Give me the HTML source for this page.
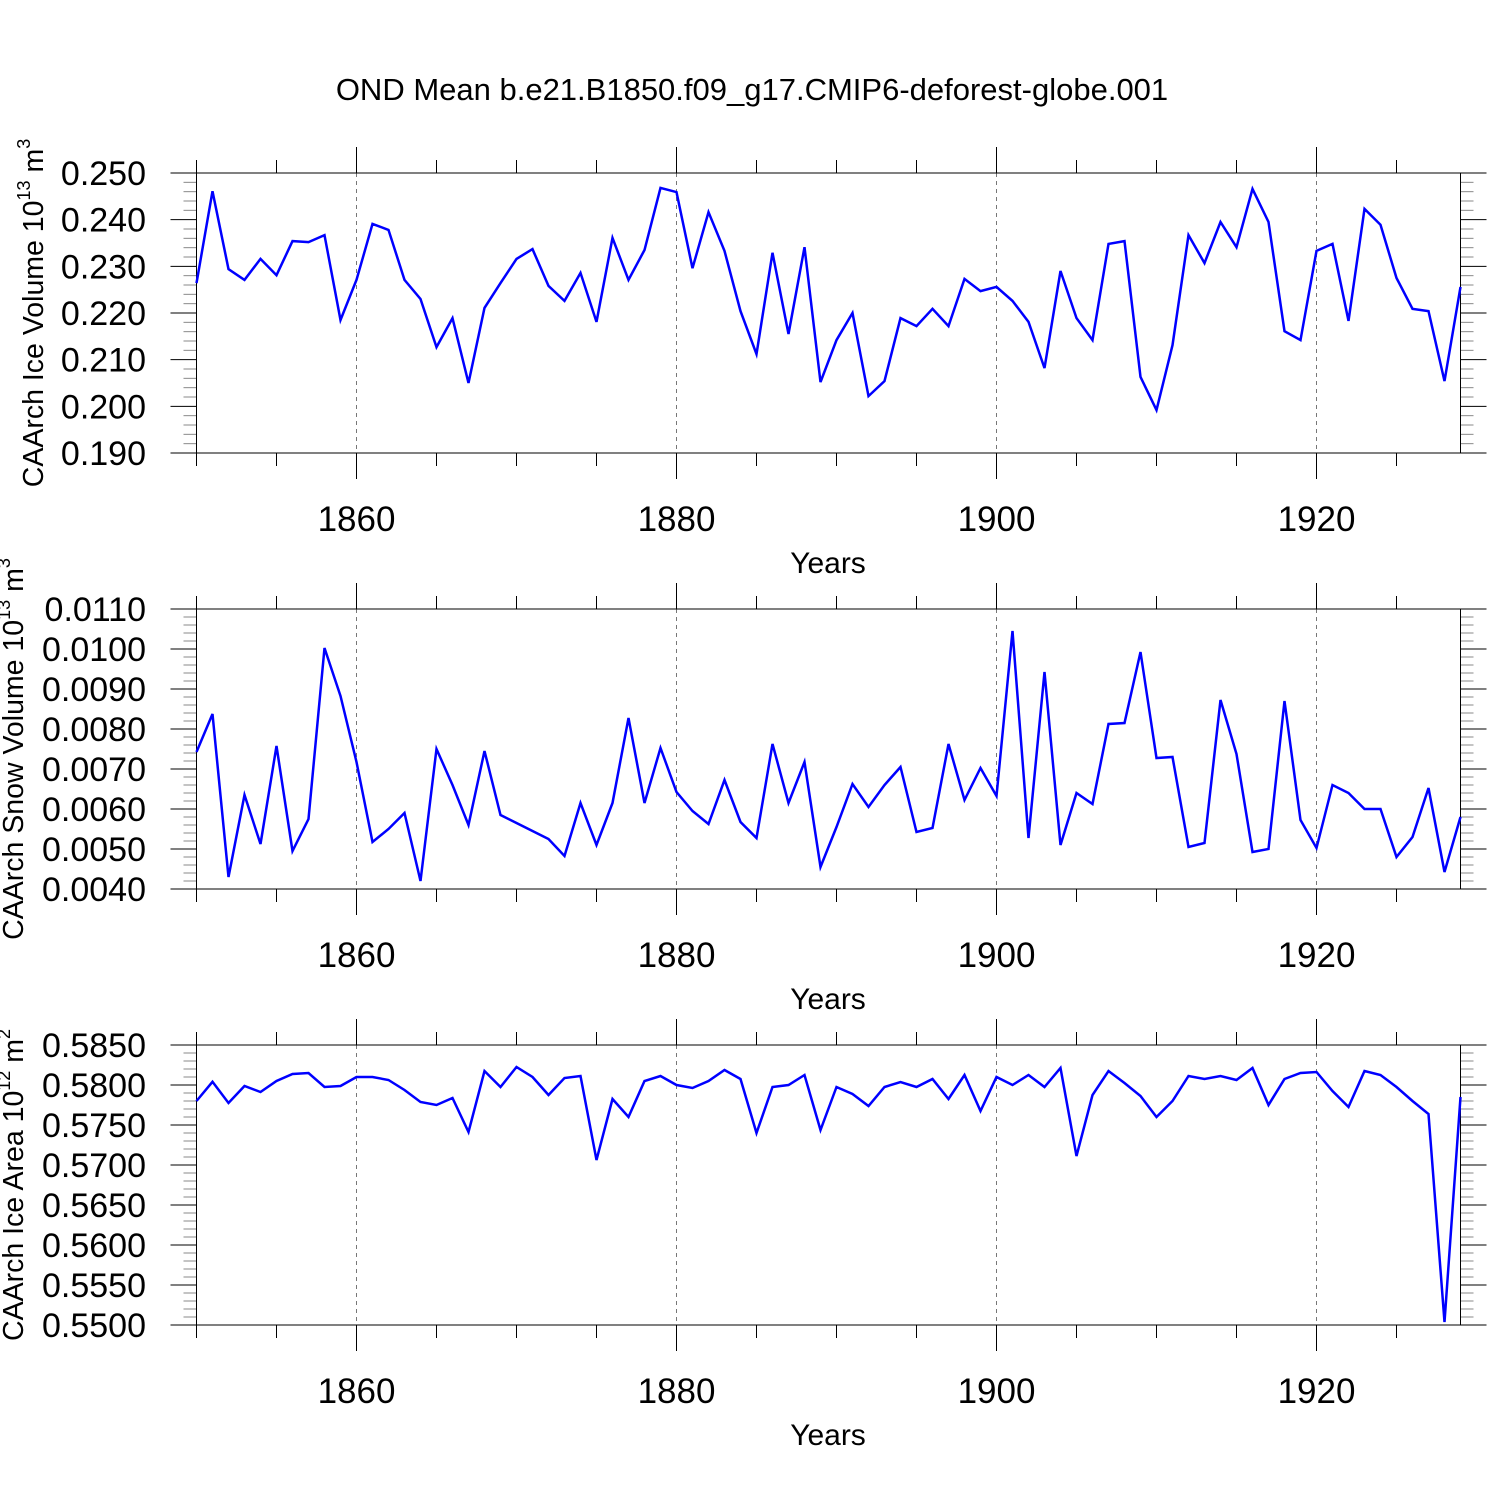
<!DOCTYPE html>
<html><head><meta charset="utf-8"><style>
html,body{margin:0;padding:0;background:#fff;}
svg{display:block;font-family:"Liberation Sans",sans-serif;}
</style></head><body>
<svg id="chart" width="1500" height="1500" viewBox="0 0 1500 1500" xmlns="http://www.w3.org/2000/svg">
<rect width="1500" height="1500" fill="#fff"/>
<text x="752" y="100" font-size="31" text-anchor="middle">OND Mean b.e21.B1850.f09_g17.CMIP6-deforest-globe.001</text>
</svg>
<script>
const years = [];
for (let y = 1850; y <= 1929; y++) years.push(y);
const iceVolume = [0.2264,0.2461,0.2294,0.2271,0.2316,0.2281,0.2354,0.2352,0.2367,0.2185,0.2271,0.2391,0.2378,0.2271,0.2230,0.2127,0.2189,0.2050,0.2211,0.2264,0.2316,0.2337,0.2258,0.2226,0.2286,0.2181,0.2361,0.2271,0.2335,0.2468,0.2459,0.2296,0.2416,0.2333,0.2204,0.2112,0.2329,0.2155,0.2341,0.2052,0.2142,0.2200,0.2022,0.2054,0.2189,0.2172,0.2209,0.2172,0.2273,0.2247,0.2256,0.2226,0.2181,0.2082,0.2290,0.2189,0.2142,0.2348,0.2354,0.2063,0.1992,0.2131,0.2367,0.2307,0.2395,0.2341,0.2466,0.2395,0.2161,0.2142,0.2333,0.2348,0.2183,0.2423,0.2389,0.2275,0.2209,0.2204,0.2054,0.2256];
const snowVolume = [0.007425,0.008375,0.0043,0.00635,0.005125,0.007575,0.00495,0.00575,0.010025,0.008825,0.007175,0.005175,0.0055,0.0059,0.0042,0.0075,0.0066,0.0056,0.00745,0.00585,0.00565,0.00545,0.00525,0.004825,0.00615,0.0051,0.00615,0.008275,0.00615,0.007525,0.006425,0.00595,0.005625,0.006725,0.005675,0.005275,0.007625,0.00615,0.007175,0.00455,0.00555,0.006625,0.00605,0.0066,0.00705,0.005425,0.005525,0.007625,0.006225,0.007025,0.006325,0.01045,0.005275,0.009425,0.0051,0.0064,0.006125,0.008125,0.00815,0.009925,0.007275,0.0073,0.00505,0.00515,0.008725,0.007375,0.004925,0.005,0.0087,0.005725,0.005025,0.0066,0.0064,0.006,0.006,0.0048,0.0053,0.006525,0.004425,0.0058];
const iceArea = [0.5780,0.5804,0.57775,0.579875,0.579125,0.5805,0.581375,0.5815,0.57975,0.579875,0.581,0.581,0.580625,0.579375,0.577875,0.5775,0.578375,0.574125,0.58175,0.57975,0.58225,0.581,0.57875,0.580875,0.581125,0.570625,0.57825,0.576,0.5805,0.581125,0.58,0.579625,0.5805,0.581875,0.58075,0.574,0.57975,0.58,0.58125,0.574375,0.57975,0.578875,0.577375,0.57975,0.580375,0.57975,0.58075,0.57825,0.58125,0.57675,0.581,0.58,0.58125,0.57975,0.582125,0.571125,0.57875,0.58175,0.58025,0.578625,0.576,0.578,0.581125,0.58075,0.581125,0.580625,0.582125,0.5775,0.58075,0.5815,0.581625,0.57925,0.57725,0.58175,0.58125,0.57975,0.578,0.576375,0.550375,0.5785];
const xTicks = [1860,1880,1900,1920];
const ticks1 = ["0.250","0.240","0.230","0.220","0.210","0.200","0.190"];
const ticks2 = ["0.0110","0.0100","0.0090","0.0080","0.0070","0.0060","0.0050","0.0040"];
const ticks3 = ["0.5850","0.5800","0.5750","0.5700","0.5650","0.5600","0.5550","0.5500"];

const NS = "http://www.w3.org/2000/svg";
const svg = document.getElementById("chart");
function mk(tag, attrs, parent) {
  const e = document.createElementNS(NS, tag);
  for (const k in attrs) e.setAttribute(k, attrs[k]);
  (parent || svg).appendChild(e);
  return e;
}
const X0 = 196.5, X1 = 1460.5, xMin = 1850, xMax = 1929;
function xs(v) { return X0 + (v - xMin) / (xMax - xMin) * (X1 - X0); }

function panel(id, top, bottom, yTicks, yMinor, values, titleMain, sup, unit, usup, titleX) {
  const vals = yTicks.map(Number);
  const yMax = Math.max(...vals), yMin = Math.min(...vals);
  const ys = v => top + (yMax - v) / (yMax - yMin) * (bottom - top);
  const g = mk("g", {});
  
  
  xTicks.forEach(t => {
    const l = mk("line", {x1: xs(t), x2: xs(t), y1: top, y2: bottom, stroke: "#777", "stroke-width": 1, "stroke-dasharray": "4,4"}, g);
    
    
  });
  for (let yr = 1850; yr <= 1929; yr += 5) {
    const maj = yr % 20 === 0;
    const len = maj ? 26 : 13;
    const t1 = mk("line", {x1: xs(yr), x2: xs(yr), y1: top - len, y2: top, stroke: "#000", "stroke-width": 1}, g);
    
    
    const t2 = mk("line", {x1: xs(yr), x2: xs(yr), y1: bottom, y2: bottom + len, stroke: "#000", "stroke-width": 1}, g);
    
    
  }
  const step = (yMax - yMin) / (yTicks.length - 1);
  const n = (yTicks.length - 1) * yMinor;
  for (let i = 0; i <= n; i++) {
    const v = yMax - i * step / yMinor;
    const maj = i % yMinor === 0;
    const len = maj ? 26 : 13;
    const yy = ys(v);
    const a = mk("line", {x1: X0 - len, x2: X0, y1: yy, y2: yy, stroke: maj ? "#000" : "#888", "stroke-width": 1}, g);
    
    
    const b = mk("line", {x1: X1, x2: X1 + len, y1: yy, y2: yy, stroke: maj ? "#000" : "#888", "stroke-width": 1}, g);
    
    
  }
  yTicks.forEach(t => {
    const tx = mk("text", {x: 146, y: ys(Number(t)) + 12, "font-size": 34, "text-anchor": "end"}, g);
    tx.textContent = t;
    
    
  });
  xTicks.forEach(t => {
    const tx = mk("text", {x: xs(t), y: bottom + 78, "font-size": 35, "text-anchor": "middle"}, g);
    tx.textContent = t;
    
    
  });
  const xt = mk("text", {x: 828, y: bottom + 120, "font-size": 30, "text-anchor": "middle"}, g);
  xt.textContent = "Years";
  
  
  const cy = (top + bottom) / 2;
  const yt = mk("text", {x: 0, y: 0, "font-size": 28.5, "text-anchor": "middle", transform: "translate(" + titleX + "," + cy + ") rotate(-90)"}, g);
  
  
  const s1 = mk("tspan", {}, yt); s1.textContent = titleMain;
  const s2 = mk("tspan", {dy: -13, "font-size": 18}, yt); s2.textContent = sup;
  const s3 = mk("tspan", {dy: 13}, yt); s3.textContent = unit;
  const s4 = mk("tspan", {dy: -13, "font-size": 18}, yt); s4.textContent = usup;
  const fr = mk("rect", {x: X0, y: top, width: X1 - X0, height: bottom - top, fill: "none", stroke: "#000", "stroke-width": 1}, g);
  
  
  const pts = values.map((v, i) => xs(years[i]).toFixed(1) + "," + ys(v).toFixed(1)).join(" ");
  const pl = mk("polyline", {points: pts, fill: "none", stroke: "#0000ff", "stroke-width": 2.5, "stroke-linejoin": "miter"}, g);
  
  
}
panel("ice-volume", 173, 453, ticks1, 5, iceVolume, "CAArch Ice Volume 10", "13", " m", "3", 43);
panel("snow-volume", 609, 889, ticks2, 5, snowVolume, "CAArch Snow Volume 10", "13", " m", "3", 23);
panel("ice-area", 1045, 1325, ticks3, 5, iceArea, "CAArch Ice Area 10", "12", " m", "2", 23);
</script>
</body></html>
